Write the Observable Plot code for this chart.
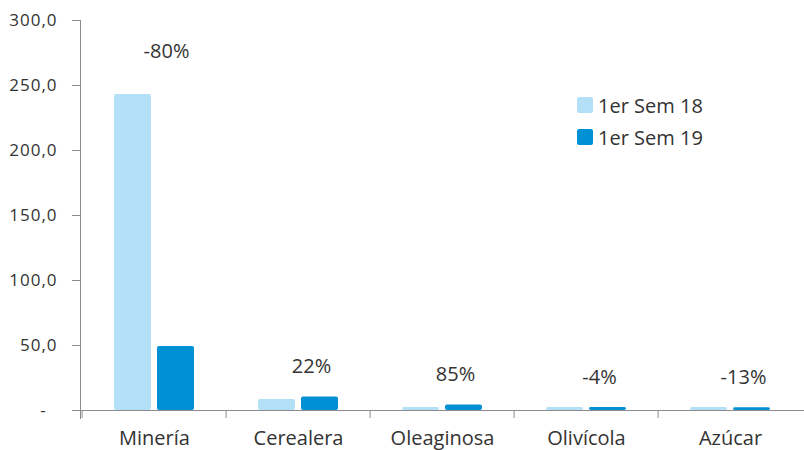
<!DOCTYPE html>
<html><head><meta charset="utf-8">
<script src="https://cdn.jsdelivr.net/npm/d3@7"></script>
<script src="https://cdn.jsdelivr.net/npm/@observablehq/plot@0.6"></script>
<style>
body{margin:0;background:#fff;font-family:"Open Sans",sans-serif;}
#wrap{position:relative;width:804px;height:450px;}
#legend{position:absolute;left:577px;top:89px;font-size:20px;color:#333;}
.item{display:flex;align-items:center;height:32px;}
.sw{width:16px;height:16px;border-radius:2px;margin-right:5px;}
g[aria-label="y-axis tick label"] text{letter-spacing:1px;}
</style></head><body><div id="wrap"><div id="legend"></div></div>
<script>
const categories = ["Minería","Cerealera","Oleaginosa","Olivícola","Azúcar"];
const series = ["1er Sem 18","1er Sem 19"];
const sem18 = [243.1, 8.5, 2.3, 2.4, 2.4];
const sem19 = [49.2, 10.4, 4.2, 2.3, 2.1];
const changes = ["-80%","22%","85%","-4%","-13%"];
const yTicks = [0,50,100,150,200,250,300];
const colors = ["#b3e0f6","#0091d5"];

const W = 804, H = 450, mL = 80, mR = 0, mT = 20, mB = 40;
const bw = (W - mL - mR) / categories.length;
const axisColor = "#8c8c8c";
const textColor = "#404040";

const rows = categories.map((c, i) => ({cat: c, v18: sem18[i], v19: sem19[i], chg: changes[i]}));

const plot = Plot.plot({
  width: W, height: H,
  marginLeft: mL, marginRight: mR, marginTop: mT, marginBottom: mB,
  style: {fontFamily: "'Open Sans', sans-serif", color: textColor, background: "transparent"},
  x: {domain: categories, padding: 0, label: null},
  y: {domain: [0, 300], label: null},
  marks: [
    Plot.barY(rows, {x: "cat", y: "v18", fill: colors[0], insetLeft: 32, insetRight: 75, rx: 2}),
    Plot.barY(rows, {x: "cat", y: "v19", fill: colors[1], insetLeft: 75, insetRight: 32, rx: 2}),
    Plot.ruleY([0], {stroke: axisColor}),
    Plot.frame({anchor: "left", stroke: axisColor, insetBottom: -8}),
    Plot.ruleX(categories, {x: d => d, y1: 0, y2: 0, dx: -bw / 2, insetBottom: -8, stroke: axisColor}),
    Plot.axisY({ticks: yTicks, tickSize: 8, tickPadding: 15, stroke: axisColor, fill: "#333", fontSize: 17, label: null,
      tickFormat: d => d === 0 ? "-\u00a0\u00a0" : d.toFixed(1).replace(".", ",")}),
    Plot.axisX({tickSize: 0, tickPadding: 20, fontSize: 20, fill: "#333", label: null}),
    Plot.text(rows.filter(d => d.cat !== "Minería"), {x: "cat", y: d => Math.max(d.v18, d.v19), text: "chg", dx: 13, dy: -30, fontSize: 20, fill: "#333"}),
    Plot.text(rows.filter(d => d.cat === "Minería"), {x: "cat", y: d => Math.max(d.v18, d.v19), text: "chg", dx: 12, dy: -43, fontSize: 20, fill: "#333"})
  ]
});
document.getElementById("wrap").prepend(plot);

const leg = document.getElementById("legend");
series.forEach((s, i) => {
  const it = document.createElement("div");
  it.className = "item";
  const sw = document.createElement("span");
  sw.className = "sw";
  sw.style.background = colors[i];
  const t = document.createElement("span");
  t.textContent = s;
  it.append(sw, t);
  leg.append(it);
});
</script></body></html>
